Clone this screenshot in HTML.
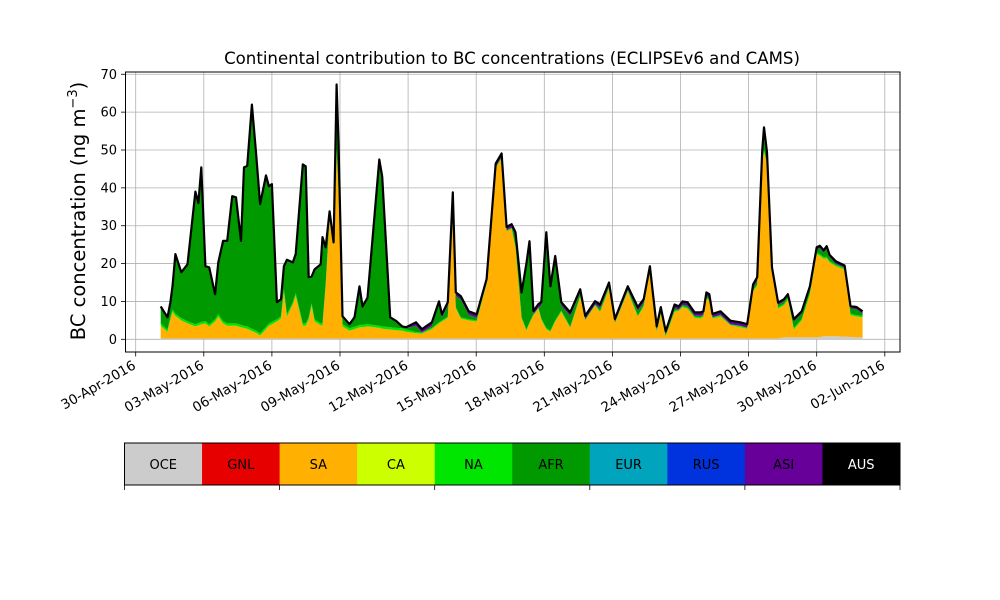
<!DOCTYPE html>
<html><head><meta charset="utf-8"><style>
body{margin:0;background:#fff;}
svg{display:block;font-family:"DejaVu Sans","Liberation Sans",sans-serif;}
</style></head><body>
<svg id="chart" width="1000" height="600" viewBox="0 0 1000 600" xmlns="http://www.w3.org/2000/svg">
<rect width="1000" height="600" fill="#fff"/>
<text x="512" y="64" font-size="16.6" text-anchor="middle">Continental contribution to BC concentrations (ECLIPSEv6 and CAMS)</text>
<g id="grid"></g>
<g id="areas"></g>
<rect x="125.5" y="72" width="774.5" height="280" fill="none" stroke="#000" stroke-width="1"/>
<g id="axes"></g>
<text transform="translate(85,211) rotate(-90)" font-size="19.5" text-anchor="middle">BC concentration (ng m<tspan font-size="13" dy="-8">−3</tspan><tspan dy="8">)</tspan></text>
<g id="legend"></g>
</svg>
<script>
const days=[1.10,1.40,1.53,1.62,1.75,2.01,2.28,2.63,2.76,2.89,3.07,3.24,3.50,3.64,3.85,4.03,4.25,4.42,4.64,4.77,4.91,5.12,5.30,5.48,5.74,5.87,6.00,6.22,6.40,6.53,6.66,6.92,7.05,7.36,7.49,7.62,7.75,7.88,8.15,8.23,8.37,8.54,8.72,8.85,8.94,9.11,9.42,9.64,9.86,9.99,10.21,10.73,10.86,11.21,11.48,11.74,11.91,
12.35,12.61,13.05,13.36,13.49,13.75,13.97,14.10,14.32,14.67,15.02,15.46,15.86,16.12,16.34,16.56,16.73,17.00,17.21,17.35,17.52,17.74,17.87,18.09,18.27,18.48,18.75,19.14,19.58,19.80,20.24,20.46,20.85,21.11,21.68,22.12,22.38,22.65,22.78,22.95,23.13,23.35,23.74,23.92,24.09,24.31,24.62,24.88,25.01,25.14,25.27,25.41,25.76,26.20,26.63,26.94,27.20,27.38,27.60,27.68,27.81,
28.03,28.30,28.56,28.73,28.99,29.34,29.70,30.00,30.14,30.31,30.44,30.57,30.84,31.23,31.49,31.76,32.02];
const oce=[0.2,0.2,0.2,0.2,0.2,0.2,0.2,0.2,0.2,0.2,0.2,0.2,0.2,0.2,0.2,0.2,0.2,0.2,0.2,0.2,0.2,0.2,0.2,0.2,0.2,0.2,0.2,0.2,0.2,0.2,0.2,0.2,0.2,0.2,0.2,0.2,0.2,0.2,0.2,0.2,0.2,0.2,0.2,0.2,0.2,0.2,0.2,0.2,0.2,0.2,0.2,0.2,0.2,0.2,0.2,0.2,0.2,
0.2,0.2,0.2,0.2,0.2,0.2,0.2,0.2,0.2,0.2,0.2,0.2,0.2,0.2,0.2,0.2,0.2,0.2,0.2,0.2,0.2,0.2,0.2,0.2,0.2,0.2,0.2,0.2,0.2,0.2,0.2,0.2,0.2,0.2,0.2,0.2,0.2,0.2,0.2,0.2,0.2,0.2,0.2,0.2,0.2,0.2,0.2,0.2,0.2,0.2,0.2,0.2,0.2,0.2,0.2,0.2,0.2,0.2,0.2,0.2,0.2,0.2,0.2,
0.5,0.5,0.5,0.5,0.5,0.5,0.6,0.8,0.8,0.8,0.8,0.7,0.6,0.5,0.5,0.5,0.5];
const sa=[3.4,1.8,5,7.1,6,4.8,4,3.2,3.5,3.8,4,3.2,4.5,5.8,4,3.4,3.4,3.4,3,2.8,2.6,2,1.5,0.8,2.5,3.4,3.8,4.5,5.3,12.4,5.8,9,11.4,3.4,3.4,5,8.7,4.5,3.5,3.4,14,31.7,24.5,49.4,38,3.2,2.1,2.5,3,3,3.2,2.8,2.6,2.4,2.2,2.1,1.8,
1.4,1.3,2.5,4,4.5,5.5,32.5,8,5.3,4.8,4.5,14.5,45,47.5,28.3,29,24,5.3,2.1,4,6.1,7.9,5,2.5,1.8,4.5,7.1,2.8,11,4.8,8.7,7,13.2,4,12.4,5.8,8.5,17.7,10,1.8,6.5,0.5,7.1,7.3,8.3,7.9,5.5,5.3,5.8,10.6,10,5.3,5.8,3.5,3,2.6,12.5,14,47,49.4,46,
17.7,7.9,8.5,10,2.1,4.5,11.4,22,21.5,20.5,20.6,19.5,18.5,17.7,5.8,5.5,5.3];
const na=[0.6,0.6,0.6,0.6,0.6,0.6,0.6,0.6,0.6,0.6,0.6,0.6,0.6,0.6,0.6,0.6,0.6,0.6,0.6,0.6,0.6,0.6,0.6,0.6,0.6,0.6,0.6,0.6,0.6,0.6,0.6,0.6,0.6,0.6,0.6,0.6,0.6,0.6,0.6,0.6,0.6,0.6,0.6,0.6,0.6,0.6,0.6,0.6,0.6,0.6,0.6,0.6,0.6,0.6,0.6,0.6,0.6,
0.3,0.3,0.3,0.3,0.3,0.3,0.3,0.3,0.3,0.3,0.3,0.3,0.3,0.3,0.3,0.3,0.3,0.3,0.3,0.3,0.3,0.3,0.3,0.3,0.3,0.3,0.3,0.3,0.3,0.3,0.3,0.3,0.3,0.3,0.3,0.3,0.3,0.3,0.3,0.3,0.3,0.3,0.3,0.3,0.3,0.3,0.3,0.3,0.3,0.3,0.3,0.3,0.3,0.3,0.3,0.3,0.3,0.3,0.3,0.3,0.3,
0.4,0.4,0.4,0.4,0.4,0.4,0.4,0.4,0.4,0.4,0.4,0.4,0.4,0.4,0.4,0.4,0.4];
const afr=[4.2,2.9,3.7,5.8,15.4,11.8,14.7,34.7,31.4,40.5,14.2,14.7,6.3,13.4,20.9,21.5,33.3,33,21.9,41.5,42.1,58.9,46.8,33.8,39.7,35.9,36.1,4.2,4.2,5.8,14.1,10.2,10,41.7,41.2,10.3,6.8,12.9,15.2,22.5,9.2,1,0,16.8,11.9,1.8,0.8,2.2,9.9,4.6,6.7,43.6,39.3,2.3,1.5,0.2,0.3,
1.7,0,0.6,4.6,0.7,2.9,4.9,3,4.7,1.2,0.7,0,0,0.2,0,0,2.9,5.7,16.5,20.5,0,0,3.4,24.4,10.8,16.1,1.3,2.9,0.8,0,0,0.8,0.4,0,0.2,1.3,0.7,0.2,1,0.2,0.6,0.2,0.7,0,0.3,0.5,0.2,0.4,0.2,0.4,0.5,0,0.2,0,0.1,0,0.6,1,1.3,5.2,2,
0.1,0.6,0.6,0.4,1.7,1.4,1.1,0.8,1.6,1.2,2.2,1,0.3,0.1,1.4,1.5,0.6];
const asi=[0.3,0.3,0.3,0.3,0.3,0.3,0.3,0.3,0.3,0.3,0.3,0.3,0.3,0.3,0.3,0.3,0.3,0.3,0.3,0.3,0.3,0.3,0.3,0.3,0.3,0.3,0.3,0.3,0.3,0.3,0.3,0.3,0.3,0.3,0.3,0.3,0.3,0.3,0.3,0.3,0.3,0.3,0.3,0.3,0.3,0.3,0.3,0.3,0.3,0.3,0.3,0.3,0.3,0.3,0.3,0.3,0.3,
0.9,0.9,0.9,0.9,0.9,0.9,0.9,0.9,0.9,0.9,0.9,0.9,0.9,0.9,0.9,0.9,0.9,0.9,0.9,0.9,0.9,0.9,0.9,0.9,0.9,0.9,0.9,0.9,0.9,0.9,0.9,0.9,0.9,0.9,0.9,0.9,0.9,0.9,0.9,0.9,0.9,0.9,0.9,0.9,0.9,0.9,0.9,0.9,0.9,0.9,0.9,0.9,0.9,0.9,0.9,0.9,0.9,0.9,0.9,0.9,0.9,
0.6,0.6,0.6,0.6,0.6,0.6,0.6,0.6,0.6,0.6,0.6,0.6,0.6,0.6,0.6,0.6,0.6];
const yTicks=[0,10,20,30,40,50,60,70];
const xTickDays=[0,3,6,9,12,15,18,21,24,27,30,33];
const xTickLabels=["30-Apr-2016","03-May-2016","06-May-2016","09-May-2016","12-May-2016","15-May-2016","18-May-2016","21-May-2016","24-May-2016","27-May-2016","30-May-2016","02-Jun-2016"];
const regions=["OCE","GNL","SA","CA","NA","AFR","EUR","RUS","ASI","AUS"];
const regionColors=["#cccccc","#e60000","#ffb000","#ccff00","#00e600","#009900","#00a5bd","#0033dd","#660099","#000000"];

const NS="http://www.w3.org/2000/svg";
function xs(d){return 135.7+d*22.7;}
function ys(v){return 339.3-v*3.786;}
function mk(tag,attrs,parent){const e=document.createElementNS(NS,tag);for(const k in attrs)e.setAttribute(k,attrs[k]);parent.appendChild(e);return e;}
const grid=document.getElementById('grid'),areas=document.getElementById('areas'),axes=document.getElementById('axes'),legend=document.getElementById('legend');

yTicks.forEach(v=>{
  const g=mk('line',{x1:125.5,x2:900,y1:ys(v),y2:ys(v),stroke:'#b0b0b0','stroke-width':0.8},grid);
  
  
  const t=mk('line',{x1:121,x2:125.5,y1:ys(v),y2:ys(v),stroke:'#000','stroke-width':0.8},axes);
  
  
  const l=mk('text',{x:117,y:ys(v)+4.5,'font-size':13,'text-anchor':'end'},axes);
  l.textContent=v;
  
  
});
xTickDays.forEach((d,i)=>{
  const g=mk('line',{x1:xs(d),x2:xs(d),y1:72,y2:352,stroke:'#b0b0b0','stroke-width':0.8},grid);
  
  
  const t=mk('line',{x1:xs(d),x2:xs(d),y1:352,y2:356.5,stroke:'#000','stroke-width':0.8},axes);
  
  
  const l=mk('text',{transform:`translate(${xs(d)+1},${368}) rotate(-30)`,'font-size':13.5,'text-anchor':'end'},axes);
  l.textContent=xTickLabels[i];
  
  
});

const layers=[["OCE",oce,"#cccccc"],["SA",sa,"#ffb000"],["NA",na,"#00e600"],["AFR",afr,"#009900"],["ASI",asi,"#660099"]];
let base=days.map(()=>0);
layers.forEach(([nm,vals,col])=>{
  const top=base.map((b,i)=>b+vals[i]);
  let d='M'+days.map((t,i)=>xs(t).toFixed(1)+','+ys(top[i]).toFixed(1)).join('L');
  for(let i=days.length-1;i>=0;i--)d+='L'+xs(days[i]).toFixed(1)+','+ys(base[i]).toFixed(1);
  const p=mk('path',{d:d+'Z',fill:col,stroke:'none'},areas);
  
  
  base=top;
});
const topLine=mk('path',{d:'M'+days.map((t,i)=>xs(t).toFixed(1)+','+ys(base[i]).toFixed(1)).join('L'),fill:'none',stroke:'#000','stroke-width':2.2,'stroke-linejoin':'round'},areas);



const lx=124.5,lw=775.5,ly=443,lh=42,cw=lw/regions.length;
regions.forEach((r,i)=>{
  const rc=mk('rect',{x:lx+i*cw,y:ly,width:cw+0.5,height:lh,fill:regionColors[i]},legend);
  
  
  const t=mk('text',{x:lx+i*cw+cw/2,y:ly+lh/2+5,'font-size':13,'text-anchor':'middle',fill:r==="AUS"?"#fff":"#000"},legend);
  t.textContent=r;
  
  
});
const fr=mk('rect',{x:lx,y:ly,width:lw,height:lh,fill:'none',stroke:'#000','stroke-width':1},legend);


for(let k=0;k<=5;k++){
  const tk=mk('line',{x1:lx+k*lw/5,x2:lx+k*lw/5,y1:ly+lh,y2:ly+lh+5,stroke:'#000','stroke-width':0.8},legend);
  
  
}
</script>
</body></html>
